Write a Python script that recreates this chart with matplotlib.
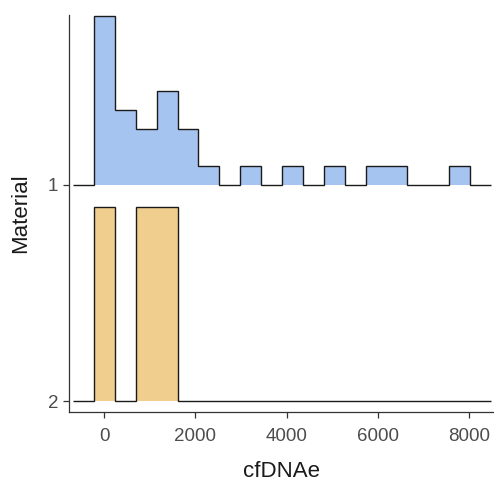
import numpy as np
import matplotlib
matplotlib.use('Agg')
import matplotlib.pyplot as plt

plt.rcParams['font.family'] = ['Liberation Sans', 'DejaVu Sans']

# binning used by both ridges (cfDNAe units)
bin_start = -226
bin_width = 458.6
# counts per bin, 18 bins
counts_1 = [9, 4, 3, 5, 3, 1, 0, 1, 0, 1, 0, 1, 0, 1, 1, 0, 0, 1]
counts_2 = [1, 0, 1, 1, 0, 0, 0, 0, 0, 0, 0, 0, 0, 0, 0, 0, 0, 0]
groups = ['1', '2']
group_pos = [1, 0]
fills = ['#A6C4F0', '#F0CE8E']
ridge_scale = 0.9

edges = bin_start + bin_width * np.arange(len(counts_1) + 1)
# pad one empty bin on each side, like ggridges
edges_pad = np.concatenate([[edges[0] - bin_width], edges, [edges[-1] + bin_width]])

dens = []
for c in [counts_1, counts_2]:
    c = np.array(c, dtype=float)
    dens.append(np.concatenate([[0], c / (c.sum() * bin_width), [0]]))
top = max(d.max() for d in dens)

fig = plt.figure(figsize=(4.94, 4.84), dpi=100)
ax = fig.add_axes([69.3 / 494, 1 - 411.7 / 484, 1 - 69.3 / 494, (411.7 - 15) / 484])

for d, pos, col in zip(dens, group_pos, fills):
    h = pos + d / top * ridge_scale
    ax.stairs(h, edges_pad, baseline=pos, fill=True, color=col, lw=0, zorder=2)
    ax.stairs(h, edges_pad, baseline=None, color='#1a1a1a', lw=1.0, zorder=3)

ax.set_xlim(-768, 8555)
ax.set_ylim(-0.0495, 1.787)
ax.set_xticks([0, 2000, 4000, 6000, 8000])
ax.set_yticks(group_pos)
ax.set_yticklabels(groups)

for s in ['top', 'right']:
    ax.spines[s].set_visible(False)
for s in ['left', 'bottom']:
    ax.spines[s].set_color('#333333')
    ax.spines[s].set_linewidth(0.9)
ax.tick_params(length=4.5, width=0.9, color='#333333', labelcolor='#4D4D4D',
               labelsize=13.5)
ax.tick_params(axis='x', pad=7)
ax.tick_params(axis='y', pad=3.5)

ax.set_xlabel('cfDNAe', fontsize=16, color='#1a1a1a', labelpad=12)
ax.set_ylabel('Material', fontsize=16, color='#1a1a1a', labelpad=12)

fig.savefig('out.png', dpi=100)
